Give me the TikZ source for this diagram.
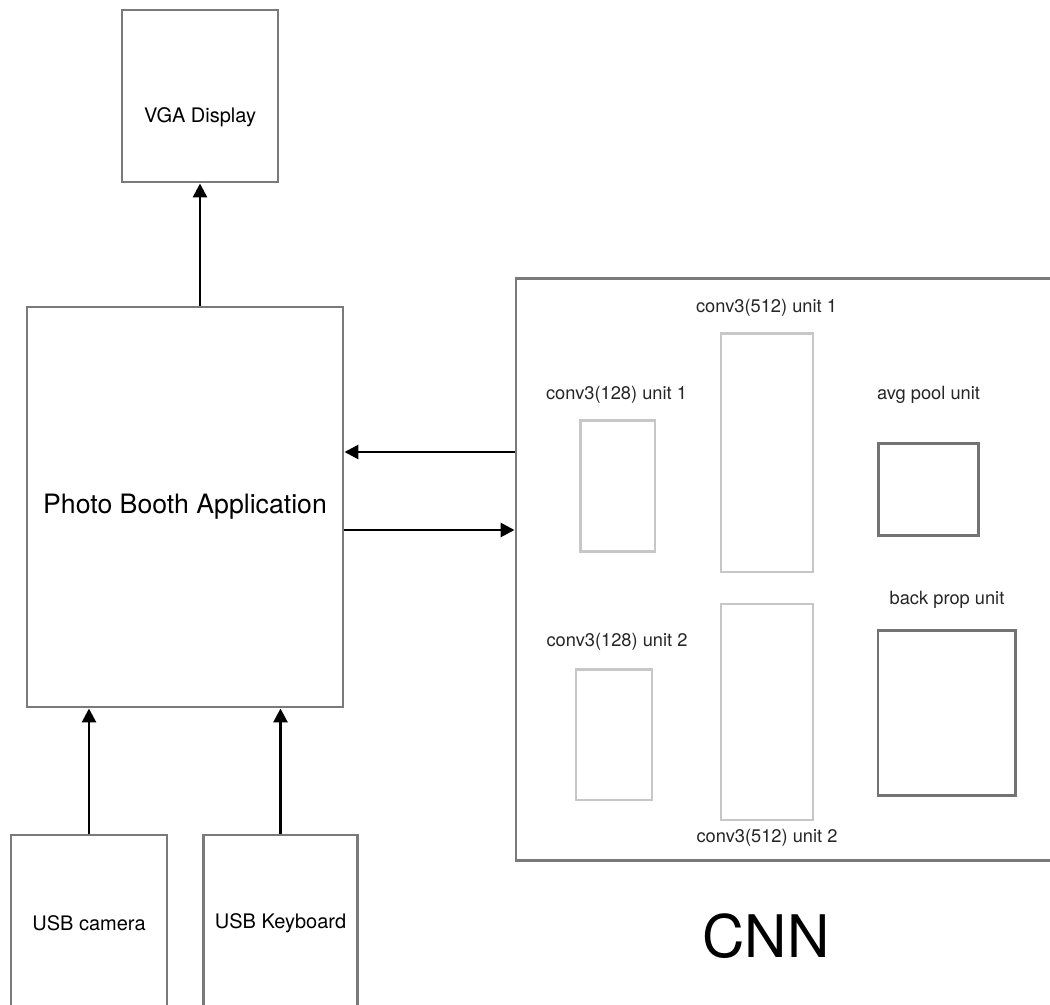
\documentclass[tikz,border=0pt]{standalone}
\usepackage{fontspec}
\setmainfont{TeX Gyre Heros}
\usetikzlibrary{arrows.meta,positioning}

\begin{document}
\begin{tikzpicture}[
		x=0.75pt, y=-0.75pt,
		block/.style={draw=black!52, line width=2.2pt, fill=white, inner sep=0pt, font=\fontsize{15}{18}\selectfont},
		unit/.style={draw=black!22, line width=2pt, inner sep=0pt},
		darkunit/.style={draw=black!55, line width=2pt, inner sep=0pt},
		tag/.style={font=\fontsize{13.7}{16}\selectfont, text=black!85},
		arr/.style={-{Triangle[length=10.5pt,width=10.5pt]}, line width=2.1pt},
	]
		\useasboundingbox (0,0) rectangle (1050,1004);
		\clip (0,0) rectangle (1050,1004);
		
		\node (vga) [block, minimum width=117pt, minimum height=129pt,
			label={[font=\fontsize{15}{18}\selectfont, yshift=-15.75pt]center:VGA Display}] at (200,96) {};
		\node (app) [block, minimum width=237pt, minimum height=300pt, font=\fontsize{20}{24}\selectfont] at (185,507) {Photo Booth Application};
		\node (cam) [block, minimum width=117pt, minimum height=132pt] at (89,923) {USB camera};
		\node (kbd) [block, minimum width=116pt, minimum height=132pt] at (280.5,923) {USB Keyboard};
		
		\node (cnn) [block, minimum width=423pt, minimum height=436pt] at (798,569.5) {};
		\node (cnnname) [font=\fontsize{44}{50}\selectfont] at (766,936) {CNN};
		
		\node (conva) [unit, minimum width=56pt, minimum height=98pt] at (617.5,486) {};
		\node (convb) [unit, minimum width=57pt, minimum height=98pt] at (614,734.5) {};
		\node (convc) [unit, minimum width=69pt, minimum height=179pt] at (767,452.5) {};
		\node (convd) [unit, minimum width=69pt, minimum height=162pt] at (767,712) {};
		\node (pool) [darkunit, minimum width=75pt, minimum height=69pt] at (928.5,489.5) {};
		\node (prop) [darkunit, minimum width=103pt, minimum height=124pt] at (946.5,713) {};
		
		\node (convatag) [tag] at (616.5,395) {conv3(128) unit 1};
		\node (convbtag) [tag] at (617,642) {conv3(128) unit 2};
		\node (convctag) [tag] at (766.5,308) {conv3(512) unit 1};
		\node (convdtag) [tag] at (767,838) {conv3(512) unit 2};
		\node (pooltag) [tag] at (928.5,395) {avg pool unit};
		\node (proptag) [tag] at (947,600) {back prop unit};
		
		\draw[arr] (app.north -| vga.south) -- (vga.south);
		\draw[arr] (cam.north) -- (app.south -| cam.north);
		\draw[arr] (kbd.north) -- (app.south -| kbd.north);
		\draw[arr] (cnn.west |- 0,452) -- (app.east |- 0,452);
		\draw[arr] (app.east |- 0,530) -- (cnn.west |- 0,530);
	\end{tikzpicture}
\end{document}
